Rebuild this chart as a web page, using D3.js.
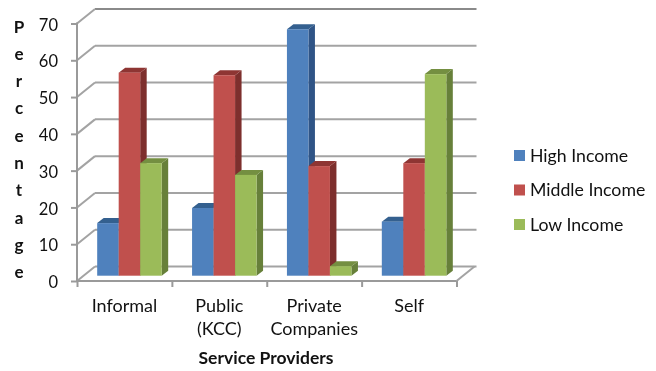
<!DOCTYPE html>
<html>
<head>
<meta charset="utf-8">
<script src="https://cdn.jsdelivr.net/npm/d3@7/dist/d3.min.js"></script>
<style>
html,body{margin:0;padding:0;background:#fff;}
svg{display:block;filter:blur(0.4px);}
text{font-family:Lato,"Open Sans",sans-serif;fill:#111;}
</style>
</head>
<body>
<svg id="chart" width="656" height="371"></svg>
<script>
const categories = [["Informal"], ["Public", "(KCC)"], ["Private", "Companies"], ["Self"]];
const seriesNames = ["High Income", "Middle Income", "Low Income"];
const highIncome = [14.3, 18.4, 67, 14.7];
const middleIncome = [55.2, 54.5, 29.8, 30.6];
const lowIncome = [30.6, 27.4, 2.6, 54.8];
const yTicks = [0, 10, 20, 30, 40, 50, 60, 70];
const yTitle = "Percentage".split("");
const xTitle = "Service Providers";
const faces = [
  {front:"#4f81bd", side:"#2f5486", top:"#34608f"},
  {front:"#c0504d", side:"#7d2f2d", top:"#8e3533"},
  {front:"#9bbb59", side:"#67803a", top:"#748f41"}
];
const series = [highIncome, middleIncome, lowIncome];

const svg = d3.select("#chart");
const plotL = 77, plotR = 456.5, plotB = 281, plotT = 23.5;
const wallDx = 18, wallDy = 14.5, barOffX = 5, barOffY = 5.3, depthX = 6.5, depthY = 5;

const x = d3.scaleBand().domain(d3.range(categories.length)).range([plotL, plotR]).paddingInner(0).paddingOuter(0);
const y = d3.scaleLinear().domain([0, 70]).range([plotB, plotT]);
const group = d3.scaleBand().domain(d3.range(3)).range([0, 64.5]);
const groupStart = (x.bandwidth() - 64.5) / 2 + barOffX;

const root = svg.append("g");
const grey = "#a3a3a3";

// back wall gridlines and left wall diagonals
yTicks.forEach(t => {
  const yy = y(t);
  root.append("line").attr("x1", plotL + wallDx).attr("x2", plotR + wallDx + 2)
    .attr("y1", yy - wallDy).attr("y2", yy - wallDy)
    .attr("stroke", t === 70 ? "#8a8a8a" : grey).attr("stroke-width", 2);
  root.append("line").attr("x1", plotL).attr("x2", plotL + wallDx)
    .attr("y1", yy).attr("y2", yy - wallDy)
    .attr("stroke", grey).attr("stroke-width", 2);
});
// floor right edge
root.append("line").attr("x1", plotR).attr("x2", plotR + wallDx)
  .attr("y1", plotB).attr("y2", plotB - wallDy)
  .attr("stroke", grey).attr("stroke-width", 2);

// bars: within each cluster left to right, so each front covers the previous side
categories.forEach((c, i) => {
  const g = root.append("g");
  [0, 1, 2].forEach(s => {
    const v = series[s][i];
    const x0 = x(i) + groupStart + group(s);
    const x1 = x0 + group.bandwidth();
    const y0 = y(0) - barOffY;
    const y1 = y(v) - barOffY;
    g.append("path").attr("fill", faces[s].side)
      .attr("d", `M${x1},${y1}L${x1 + depthX},${y1 - depthY}L${x1 + depthX},${y0 - depthY}L${x1},${y0}Z`);
    g.append("path").attr("fill", faces[s].top)
      .attr("d", `M${x0},${y1}L${x0 + depthX},${y1 - depthY}L${x1 + depthX},${y1 - depthY}L${x1},${y1}Z`);
    g.append("rect").attr("fill", faces[s].front)
      .attr("x", x0).attr("y", y1).attr("width", x1 - x0).attr("height", y0 - y1);
  });
});

// axes
const yAxis = d3.axisLeft(y).tickValues(yTicks).tickSize(6).tickPadding(13).tickFormat(d3.format("d"));
const gy = svg.append("g").attr("transform", `translate(${plotL},0)`).call(yAxis);
gy.selectAll("path,line").attr("stroke", "#9a9a9a").attr("stroke-width", 2);
gy.select("path").attr("d", `M0,${plotT - 1}V${plotB}`);
gy.selectAll("text").attr("font-size", 16.5).attr("fill", "#111")
  .attr("font-family", "Lato").attr("dy", "0.4em");

const xAxisScale = d3.scaleLinear().domain([0, categories.length]).range([plotL, plotR]);
const xAxis = d3.axisBottom(xAxisScale).tickValues(d3.range(categories.length + 1)).tickSize(6).tickFormat("");
const gx = svg.append("g").attr("transform", `translate(0,${plotB})`).call(xAxis);
gx.selectAll("path,line").attr("stroke", "#9a9a9a").attr("stroke-width", 2);
gx.select("path").attr("d", `M${plotL},0H${plotR}`);

// category labels
categories.forEach((lines, i) => {
  lines.forEach((t, k) => {
    svg.append("text").attr("x", x(i) + x.bandwidth() / 2).attr("y", 312 + k * 23)
      .attr("text-anchor", "middle").attr("font-size", 18).text(t);
  });
});

// axis titles
yTitle.forEach((ch, i) => {
  svg.append("text").attr("x", 19).attr("y", 32.5 + i * 27.3).attr("text-anchor", "middle")
    .attr("font-size", 17).attr("font-weight", 700).text(ch);
});
svg.append("text").attr("x", 266).attr("y", 364).attr("text-anchor", "middle")
  .attr("font-size", 17.5).attr("font-weight", 700).text(xTitle);

// legend
const legendY = d3.scalePoint().domain(seriesNames).range([155.5, 224.5]);
seriesNames.forEach((n, i) => {
  svg.append("rect").attr("x", 514).attr("y", legendY(n) - 5.5).attr("width", 11).attr("height", 11)
    .attr("fill", faces[i].front);
  svg.append("text").attr("x", 530).attr("y", legendY(n) + 6).attr("font-size", 17.7).text(n);
});
</script>
</body>
</html>
